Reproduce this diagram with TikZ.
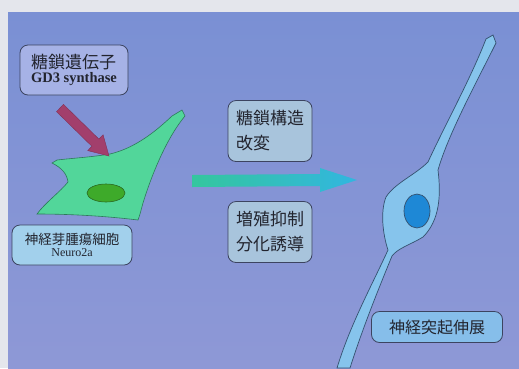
\documentclass[tikz,border=0pt]{standalone}
\usepackage{fontspec}
\setmainfont{Liberation Serif}
\newfontfamily\jpfont{Noto Sans CJK JP}
\usetikzlibrary{calc}

\definecolor{paper}{HTML}{E4E6EC}
\definecolor{slidetop}{HTML}{7A90D4}
\definecolor{slidebottom}{HTML}{8E98D6}
\definecolor{edge}{HTML}{3C4460}
\definecolor{ink}{HTML}{22242E}
\definecolor{cellgreen}{HTML}{52D69A}
\definecolor{cellline}{HTML}{2E7A5A}
\definecolor{nucgreen}{HTML}{3EAA2A}
\definecolor{nucline}{HTML}{2A6A20}
\definecolor{genered}{HTML}{A23F6C}
\definecolor{arrowgreen}{HTML}{34C69E}
\definecolor{arrowcyan}{HTML}{32B6E0}
\definecolor{neuronblue}{HTML}{86C4EC}
\definecolor{neuronline}{HTML}{34506E}
\definecolor{nucblue}{HTML}{1E88D6}
\definecolor{genebox}{HTML}{A6B2E6}
\definecolor{cellbox}{HTML}{A2D0EC}
\definecolor{stepfill}{HTML}{A8C4DC}
\definecolor{neuritebox}{HTML}{86BEEA}

\tikzstyle{label}=[rounded corners=8pt, draw=edge, line width=0.8pt, text=ink, align=left, inner sep=2pt]
\tikzstyle{change}=[label, fill=stepfill, minimum width=84pt, minimum height=61pt, font=\jpfont\fontsize{17}{25}\selectfont]

\begin{document}
\begin{tikzpicture}[x=1pt, y=-1pt]

\useasboundingbox (0, 0) rectangle (519, 368);
\fill [paper] (0, 0) rectangle (519, 368);
\shade [top color=slidetop, bottom color=slidebottom] (8, 12) rectangle (519, 368);

% Neuro2a cell before treatment
\draw [fill=cellgreen, draw=cellline, line width=0.6pt]
    (172, 116) -- (182, 110) -- (185, 116)
    .. controls (165, 140) and (150, 180) .. (143, 203)
    .. controls (141, 210) and (140, 215) .. (138, 220)
    .. controls (105, 216) and (70, 214) .. (37, 214)
    .. controls (45, 203) and (60, 192) .. (68, 182)
    .. controls (67, 174) and (62, 168) .. (52, 163)
    -- (57, 160)
    .. controls (75, 158) and (92, 157) .. (110, 154)
    .. controls (135, 148) and (155, 132) .. (172, 116) -- cycle;
\draw [fill=nucgreen, draw=nucline, line width=0.6pt] (106, 193) ellipse [x radius=19, y radius=9];

% differentiated neuron
\draw [fill=neuronblue, draw=neuronline, line width=0.7pt]
    (486, 39) -- (493, 35) -- (496, 43)
    .. controls (475, 85) and (448, 135) .. (438, 170)
    .. controls (441, 195) and (440, 220) .. (423, 237)
    .. controls (410, 245) and (398, 248) .. (392, 256)
    .. controls (378, 290) and (362, 330) .. (350, 368)
    -- (337, 368)
    .. controls (350, 325) and (372, 285) .. (388, 250)
    .. controls (383, 235) and (380, 212) .. (386, 197)
    .. controls (395, 183) and (415, 175) .. (428, 162)
    .. controls (445, 125) and (470, 80) .. (486, 39) -- cycle;
\draw [fill=nucblue, draw=neuronline, line width=0.7pt] (417, 211) ellipse [x radius=13, y radius=17];

\node [label, fill=genebox, minimum width=108pt, minimum height=50pt] (gene) at (74, 70)
    {{\jpfont\fontsize{17}{18}\selectfont 糖鎖遺伝子}\\[2pt]{\fontsize{14.5}{16}\selectfont\bfseries GD3 synthase}};
\node [label, fill=cellbox, minimum width=120pt, minimum height=40pt, align=center] (neuroblast) at (72, 245)
    {{\jpfont\fontsize{13.5}{15}\selectfont 神経芽腫瘍細胞}\\[0pt]{\fontsize{12}{13}\selectfont Neuro2a}};
\node [change] (modify) at (270, 131) {糖鎖構造\\改変};
\node [change] (suppress) at (270, 232) {増殖抑制\\分化誘導};
\node [label, fill=neuritebox, minimum width=131pt, minimum height=31pt, font=\jpfont\fontsize{16}{18}\selectfont] (neurite) at (437, 327) {神経突起伸展};

\coordinate (gene in) at (60, 108);
\coordinate (gene out) at (109, 156);
\coordinate (tail) at (192, 181);
\coordinate (tip) at (357, 180);

\draw [fill=genered, draw=genered!80!black, line width=0.4pt]
    ($(gene in)+(3.5,-3.6)$) -- ($(gene out)+(-10.1,-16.9)$)
    -- ($(gene out)+(-5.9,-21.2)$) -- (gene out) -- ($(gene out)+(-21.3,-5.4)$)
    -- ($(gene out)+(-17.1,-9.7)$) -- ($(gene in)+(-3.5,3.6)$) -- cycle;

\path [left color=arrowgreen, right color=arrowcyan]
    ($(tail)+(0,-6)$) -- ($(tip)+(-37,-6)$) -- ($(tip)+(-37,-12)$) -- (tip)
    -- ($(tip)+(-37,12)$) -- ($(tip)+(-37,6)$) -- ($(tail)+(0,6)$) -- cycle;

\end{tikzpicture}
\end{document}
